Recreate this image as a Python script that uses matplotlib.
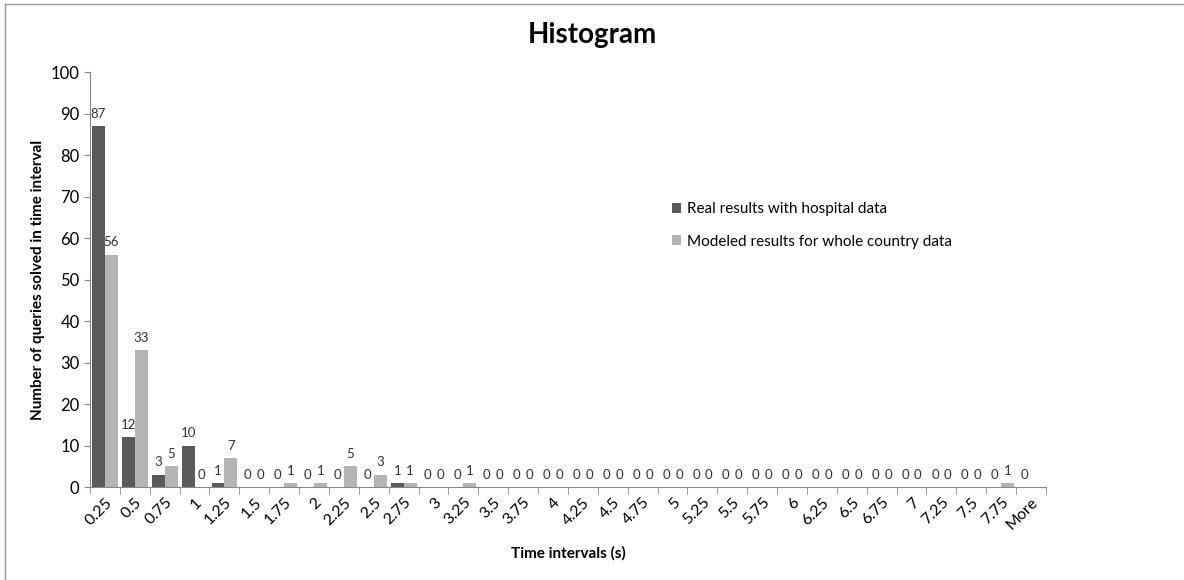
import numpy as np
import matplotlib.pyplot as plt
from matplotlib.lines import Line2D

plt.rcParams['font.family'] = ['Lato', 'DejaVu Sans']

categories = ['0.25', '0.5', '0.75', '1', '1.25', '1.5', '1.75', '2', '2.25', '2.5',
              '2.75', '3', '3.25', '3.5', '3.75', '4', '4.25', '4.5', '4.75', '5',
              '5.25', '5.5', '5.75', '6', '6.25', '6.5', '6.75', '7', '7.25', '7.5',
              '7.75', 'More']
real = [87, 12, 3, 10, 1, 0, 0, 0, 0, 0, 1, 0, 0, 0, 0, 0, 0, 0, 0, 0,
        0, 0, 0, 0, 0, 0, 0, 0, 0, 0, 0, 0]
modeled = [56, 33, 5, 0, 7, 0, 1, 1, 5, 3, 1, 0, 1, 0, 0, 0, 0, 0, 0, 0,
           0, 0, 0, 0, 0, 0, 0, 0, 0, 0, 1, 0]

dark = '#5a5a5a'
light = '#b4b4b4'

fig = plt.figure(figsize=(11.84, 5.8), dpi=100)
ax = fig.add_axes([0.076, 0.1603, 0.8074, 0.7155])

x = np.arange(len(categories))
w = 0.43
b1 = ax.bar(x - w / 2, real, w, color=dark, label='Real results with hospital data')
b2 = ax.bar(x + w / 2, modeled, w, color=light, label='Modeled results for whole country data')

for rect, v in zip(b1, real):
    ax.text(rect.get_x() + rect.get_width() / 2, v + 1.5, str(v), ha='center', va='bottom',
            fontsize=9.5, color='#333333')
# the last label of the second series is hidden behind the axis end in the original
for rect, v in list(zip(b2, modeled))[:-1]:
    ax.text(rect.get_x() + rect.get_width() / 2, v + 1.5, str(v), ha='center', va='bottom',
            fontsize=9.5, color='#333333')

ax.set_xlim(-0.5, len(categories) - 0.5)
ax.set_ylim(0, 100)
ax.set_yticks(range(0, 101, 10))
ax.tick_params(axis='y', labelsize=12, length=4, color='#888888')
ax.set_xticks(x)
ax.set_xticklabels(categories, rotation=45, ha='right', rotation_mode='anchor', fontsize=11.5)
ax.tick_params(axis='x', length=0, pad=6)
ax.set_xticks(np.arange(-0.5, len(categories)), minor=True)
ax.tick_params(axis='x', which='minor', length=5, color='#888888')

for s in ['top', 'right']:
    ax.spines[s].set_visible(False)
for s in ['left', 'bottom']:
    ax.spines[s].set_color('#888888')

ax.set_xlabel('Time intervals (s)', fontsize=11, fontweight='bold', labelpad=10)
ax.set_ylabel('Number of queries solved in time interval', fontsize=11, fontweight='bold')
fig.text(0.5, 0.94, 'Histogram', ha='center', va='center', fontsize=20, fontweight='bold')

fig.legend(loc='upper left', bbox_to_anchor=(0.556, 0.675), frameon=False, fontsize=11,
           handlelength=0.6, handleheight=0.6, handletextpad=0.4, labelspacing=1.2)

# only top and left edges of the frame are visible
fig.lines.append(Line2D([0.004, 1.0], [0.993, 0.993], transform=fig.transFigure,
                        color='#999999', linewidth=1))
fig.lines.append(Line2D([0.004, 0.004], [0.0, 0.993], transform=fig.transFigure,
                        color='#999999', linewidth=1))

fig.savefig('out.png', dpi=100)
